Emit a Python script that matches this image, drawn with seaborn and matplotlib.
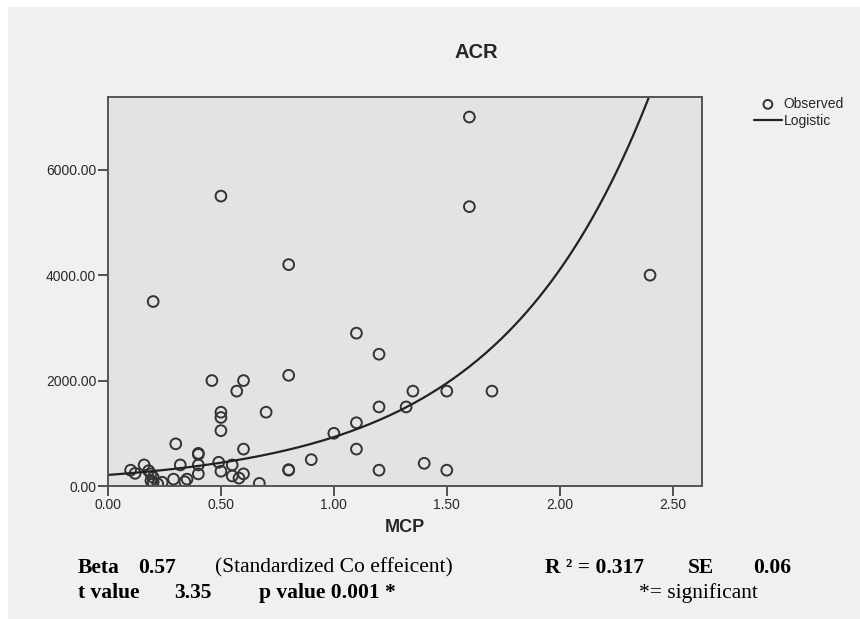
import numpy as np
import pandas as pd
import seaborn as sns
import matplotlib.pyplot as plt
from matplotlib.patches import Rectangle

mcp = [1.60, 0.50, 1.60, 0.80, 2.40, 0.20, 1.10, 1.20, 0.46, 0.60,
       0.80, 0.57, 1.35, 1.50, 1.70, 1.20, 1.32, 0.50, 0.50, 0.70,
       1.10, 1.00, 0.50, 0.30, 0.60, 1.10, 0.40, 0.40, 0.90, 1.40,
       0.32, 0.40, 0.49, 0.55, 0.80, 0.80, 1.20, 1.50, 0.10, 0.16,
       0.12, 0.40, 0.50, 0.55, 0.60, 0.58, 0.67, 0.29, 0.35, 0.34,
       0.24, 0.18, 0.19, 0.20, 0.19, 0.20, 0.22]
acr = [7000, 5500, 5300, 4200, 4000, 3500, 2900, 2500, 2000, 2000,
       2100, 1800, 1800, 1800, 1800, 1500, 1500, 1400, 1300, 1400,
       1200, 1000, 1050, 800, 700, 700, 600, 620, 500, 430,
       400, 400, 450, 400, 300, 310, 300, 300, 300, 400,
       240, 230, 280, 190, 230, 150, 50, 130, 130, 80,
       70, 290, 230, 165, 100, 70, 40]

# SPSS logistic (no upper bound): y = 1 / (b0 * b1**x)
b0 = 0.00476
b1 = 0.2263

xticks = [0.0, 0.5, 1.0, 1.5, 2.0, 2.5]
yticks = [0, 2000, 4000, 6000]

df = pd.DataFrame({'MCP': mcp, 'ACR': acr})
curve_x = np.linspace(0, 2.63, 300)
curve = pd.DataFrame({'MCP': curve_x, 'ACR': 1.0 / (b0 * b1 ** curve_x)})

sns.set_theme(style='ticks')
plt.rcParams['font.family'] = ['Liberation Sans', 'DejaVu Sans']

fig = plt.figure(figsize=(8.6, 6.19), dpi=100, facecolor='white')
fig.patches.append(Rectangle((8 / 860, 0), 1, (619 - 7) / 619, transform=fig.transFigure,
                             facecolor='#f0f0f0', edgecolor='none', zorder=-10))

ax = fig.add_axes([108 / 860, (619 - 486) / 619, 594 / 860, 389 / 619])
ax.set_facecolor('#e3e3e3')

sns.scatterplot(data=df, x='MCP', y='ACR', ax=ax, marker='o', s=60,
                facecolor='none', edgecolor='#333333', linewidth=1.4, label='Observed')
sns.lineplot(data=curve, x='MCP', y='ACR', ax=ax, color='#222222', linewidth=1.6,
             label='Logistic')

ax.set_xlim(0, 2.63)
ax.set_ylim(0, 7380)
ax.set_xticks(xticks)
ax.set_xticklabels([f'{v:.2f}' for v in xticks])
ax.set_yticks(yticks)
ax.set_yticklabels([f'{v:.2f}' for v in yticks])
ax.tick_params(direction='out', length=7, width=1.3, color='#444444',
               labelsize=10, labelcolor='#2a2a2a', pad=1.5)
for s in ax.spines.values():
    s.set_color('#555555')
    s.set_linewidth(1.4)

ax.set_xlabel('MCP', fontsize=13, fontweight='bold', labelpad=5)
ax.set_ylabel('')
fig.text(476 / 860, 1 - 52 / 619, 'ACR', fontsize=14.5, fontweight='bold',
         ha='center', va='center')

leg = ax.legend(loc='upper left', bbox_to_anchor=(754 / 860, 1 - 97 / 619),
                bbox_transform=fig.transFigure, frameon=False, fontsize=10,
                handlelength=2.0, handletextpad=0.15, labelspacing=0.2,
                borderaxespad=0, borderpad=0)
for h in leg.legend_handles:
    if hasattr(h, 'set_sizes'):
        h.set_sizes([40])

# statistics caption below the chart
serif = ['Liberation Serif', 'DejaVu Serif']
y1 = 1 - 568 / 619
y2 = 1 - 593 / 619
caption = [
    (78, y1, 'Beta', 'bold'),
    (138, y1, '0.57', 'bold'),
    (215, y1, '(Standardized Co effeicent)', 'normal'),
    (545, y1, 'R \u00b2 = 0.317', 'bold'),
    (688, y1, 'SE', 'bold'),
    (753, y1, '0.06', 'bold'),
    (78, y2, 't value', 'bold'),
    (174, y2, '3.35', 'bold'),
    (259, y2, 'p value 0.001 *', 'bold'),
    (639, y2, '*= significant', 'normal'),
]
for x, y, txt, w in caption:
    fig.text(x / 860, y, txt, family=serif, fontsize=15.5, fontweight=w,
             ha='left', va='center', color='black')

fig.savefig('out.png', dpi=100, facecolor=fig.get_facecolor())
